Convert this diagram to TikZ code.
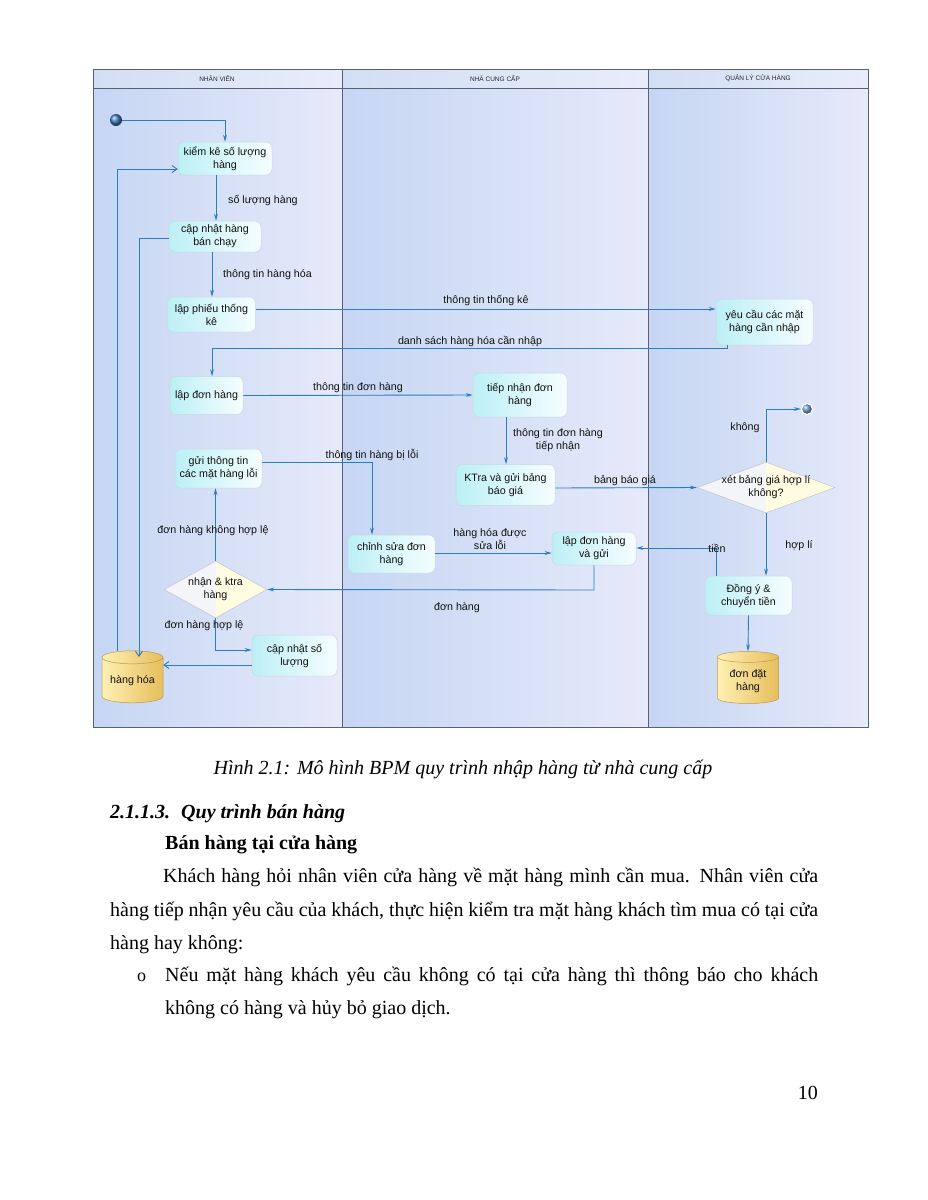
\documentclass[tikz,border=0pt]{standalone}
\usepackage{fontspec}
\setmainfont{Liberation Serif}
\newfontfamily\diag{Liberation Sans}
\usetikzlibrary{shapes.geometric,arrows.meta}
\definecolor{ln}{HTML}{2A7DBF}
\definecolor{txt}{HTML}{111111}
\definecolor{laneL}{HTML}{C6D6F3}
\definecolor{laneR}{HTML}{E6EAFA}
\definecolor{headL}{HTML}{D2DEF5}
\definecolor{headR}{HTML}{E8EDFA}
\definecolor{laneB}{HTML}{5A6070}
\definecolor{actL}{HTML}{BCF0F6}
\definecolor{actR}{HTML}{F6FDFF}
\definecolor{actB}{HTML}{C8D8E2}
\definecolor{cylL}{HTML}{FFF0B4}
\definecolor{cylR}{HTML}{E6BE5C}
\definecolor{cylB}{HTML}{B89A50}
\definecolor{diaL}{HTML}{F4F5F8}
\definecolor{diaR}{HTML}{FFFCE2}
\definecolor{diaB}{HTML}{C0C4CC}
\definecolor{ballC}{HTML}{3F7EC0}
\begin{document}
\begin{tikzpicture}[x=1pt,y=-1pt,
  dfont/.style={font=\diag\fontsize{10.7}{13}\selectfont},
  arr/.style={draw=ln, line width=0.9pt, -{Stealth[length=7pt,width=3.8pt]}},
  oarr/.style={draw=ln, line width=0.9pt, -{Straight Barb[length=5pt,width=7pt]}},
  lin/.style={draw=ln, line width=0.9pt},
  act/.style={dfont, rounded corners=6pt, left color=actL, right color=actR, draw=actB, line width=0.5pt, align=center, inner sep=1pt, text=txt},
  lbl/.style={dfont, align=center, inner sep=0pt, text=txt},
  cyl/.style={dfont, cylinder, shape border rotate=90, aspect=0.28, minimum width=61pt, minimum height=52pt, left color=cylL, right color=cylR, draw=cylB, line width=0.5pt, align=center, inner sep=1pt, text=txt},
  dia/.style={diamond, draw=diaB, fill=diaL, line width=0.5pt, inner sep=0pt,
    path picture={\fill[diaR] (path picture bounding box.north) -- (path picture bounding box.east) -- (path picture bounding box.south) -- cycle;}},
  lanehead/.style={font=\diag\fontsize{6.5}{7}\selectfont, text=black!85, inner sep=0pt},
  body/.style={font=\fontsize{20}{24}\selectfont, inner sep=0pt, anchor=base west, text=black}
]
\useasboundingbox (0,0) rectangle (927,1200);
\fill[white] (0,0) rectangle (927,1200);

% lanes
\shade[left color=laneL, right color=laneR] (93,88) rectangle (342,727);
\shade[left color=laneL, right color=laneR] (342,88) rectangle (648,727);
\shade[left color=laneL, right color=laneR] (648,88) rectangle (868,727);
\shade[left color=headL, right color=headR] (93,69) rectangle (342,88);
\shade[left color=headL, right color=headR] (342,69) rectangle (648,88);
\shade[left color=headL, right color=headR] (648,69) rectangle (868,88);
\draw[laneB, line width=0.6pt] (93,69) rectangle (868,727);
\draw[laneB, line width=0.6pt] (93,88) -- (868,88);
\draw[laneB, line width=0.6pt] (342,69) -- (342,727);
\draw[laneB, line width=0.6pt] (648,69) -- (648,727);
\node[lanehead] (h1) at (217,78.5) {NHÂN VIÊN};
\node[lanehead] (h2) at (495,78.5) {NHÀ CUNG CẤP};
\node[lanehead] (h3) at (758,78.5) {QUẢN LÝ CỬA HÀNG};

% nodes
\node[circle, minimum size=12pt, inner sep=0pt, shading=ball, ball color=ballC] (st) at (116,120) {};
\node[act, minimum width=94pt, minimum height=33pt] (kk) at (225,158.5) {kiểm kê số lượng\\hàng};
\node[act, minimum width=92pt, minimum height=31pt] (cn) at (215,236.5) {cập nhật hàng\\bán chạy};
\node[act, minimum width=88pt, minimum height=35pt] (lp) at (211.5,314.5) {lập phiếu thống\\kê};
\node[act, minimum width=97pt, minimum height=46pt] (yc) at (764.5,322) {yêu cầu các mặt\\hàng cần nhập};
\node[act, minimum width=73pt, minimum height=38pt] (ld) at (206.5,395.5) {lập đơn hàng};
\node[act, minimum width=94pt, minimum height=44pt] (tn) at (520,395) {tiếp nhận đơn\\hàng};
\node[act, minimum width=99pt, minimum height=41pt] (kt) at (505.5,485) {KTra và gửi bảng\\báo giá};
\node[act, minimum width=87pt, minimum height=39pt] (gt) at (218.5,468.5) {gửi thông tin\\các mặt hàng lỗi};
\node[act, minimum width=87pt, minimum height=38pt] (cs) at (391.5,554) {chỉnh sửa đơn\\hàng};
\node[act, minimum width=84pt, minimum height=33pt] (lg) at (594,548.5) {lập đơn hàng\\và gửi};
\node[act, minimum width=87pt, minimum height=39pt] (dy) at (748.5,595.5) {Đồng ý \&\\chuyển tiền};
\node[act, minimum width=85pt, minimum height=41pt] (cl) at (294.5,655.5) {cập nhật số\\lượng};
\node[dia, minimum width=138pt, minimum height=51pt, label={[lbl]center:xét bảng giá hợp lí\\không?}] (d1) at (766,487.5) {};
\node[dia, minimum width=103pt, minimum height=57pt, label={[lbl]center:nhận \& ktra\\hàng}] (d2) at (215.5,589.5) {};
\node[cyl] (hh) at (132.5,681) {hàng hóa};
\node[cyl] (dd) at (748,681) {đơn đặt\\hàng};
\node[circle, minimum size=11pt, inner sep=0pt, shading=ball, ball color=ballC!80!white, draw=white, line width=1.2pt] (en) at (807,409) {};

% connectors
\draw[arr] (st) -| (kk);
\draw[arr] (kk.south -| 216,0) -- (cn.north -| 216,0);
\node[lbl, anchor=west] (l1) at (228,200) {số lượng hàng};
\draw[arr] (cn.south -| 212,0) -- (lp.north -| 212,0);
\node[lbl, anchor=west] (l2) at (223,275) {thông tin hàng hóa};
\draw[arr] (lp.east |- 0,309) -- (yc.west |- 0,309);
\node[lbl] (l3) at (486,300) {thông tin thống kê};
\draw[arr] (yc.south -| 727,0) -- (727,348) -- (212,348) -- (ld.north -| 212,0);
\node[lbl] (l4) at (470,341.5) {danh sách hàng hóa cần nhập};
\draw[arr] (ld.east) -- (tn.west);
\node[lbl] (l5) at (358,388) {thông tin đơn hàng};
\draw[arr] (tn.south -| 506,0) -- (kt.north -| 506,0);
\node[lbl] (l6) at (558,440.5) {thông tin đơn hàng\\tiếp nhận};
\draw[arr] (kt.east |- 0,488) -- (d1.west);
\node[lbl] (l7) at (625,480.5) {bảng báo giá};
\draw[arr] (d1.north) |- (en);
\node[lbl] (l8) at (745,428) {không};
\draw[arr] (d1.south) -- (dy.north -| 766,0);
\node[lbl] (l9) at (799,545.5) {hợp lí};
\draw[arr] (dy.north -| 716,0) -- (716,548) -- (lg.east |- 0,548);
\node[lbl] (l10) at (717,548) {tiền};
\draw[arr] (dy.south) -- (dd.north);
\draw[arr] (lg.south) -- (594,590) -- (d2.east);
\node[lbl] (l11) at (457,608) {đơn hàng};
\draw[arr] (cs.east |- 0,553) -- (lg.west |- 0,553);
\node[lbl] (l12) at (490,539) {hàng hóa được\\sửa lỗi};
\draw[arr] (gt.east |- 0,462) -- (372,462) -- (cs.north -| 372,0);
\node[lbl] (l13) at (372,455) {thông tin hàng bị lỗi};
\draw[arr] (d2.north) -- (gt.south -| 215.5,0);
\node[lbl] (l14) at (213,531) {đơn hàng không hợp lệ};
\draw[arr] (d2.south) -- (215.5,650) -- (cl.west |- 0,650);
\node[lbl] (l15) at (204,626) {đơn hàng hợp lệ};
\draw[oarr] (cl.west |- 0,665) -- (hh.east |- 0,665);
\draw[oarr] (hh.north -| 117,0) -- (117,169) -- (kk.west |- 0,169);
\draw[oarr] (cn.west |- 0,238) -- (139,238) -- (139,657);

% page text
\node[body, anchor=base, font=\fontsize{20}{24}\selectfont\itshape] (cap) at (463,774) {Hình 2.1: Mô hình BPM quy trình nhập hàng từ nhà cung cấp};
\node[body, font=\fontsize{20}{24}\selectfont\bfseries\itshape] (t1) at (110,818) {2.1.1.3.\hspace{0.55em}Quy trình bán hàng};
\node[body, font=\fontsize{20}{24}\selectfont\bfseries] (t2) at (165,849) {Bán hàng tại cửa hàng};
\node[body] (p1) at (163,882) {\makebox[655pt][s]{Khách hàng hỏi nhân viên cửa hàng về mặt hàng mình cần mua. Nhân viên cửa}};
\node[body] (p2) at (110,916) {\makebox[708pt][s]{hàng tiếp nhận yêu cầu của khách, thực hiện kiểm tra mặt hàng khách tìm mua có tại cửa}};
\node[body] (p3) at (110,949) {hàng hay không:};
\node[body, font=\fontsize{18}{22}\selectfont] (bu) at (137,981) {o};
\node[body] (p4) at (165,981) {\makebox[653pt][s]{Nếu mặt hàng khách yêu cầu không có tại cửa hàng thì thông báo cho khách}};
\node[body] (p5) at (165,1014) {không có hàng và hủy bỏ giao dịch.};
\node[body, anchor=base east] (pg) at (818,1099) {10};
\end{tikzpicture}
\end{document}
